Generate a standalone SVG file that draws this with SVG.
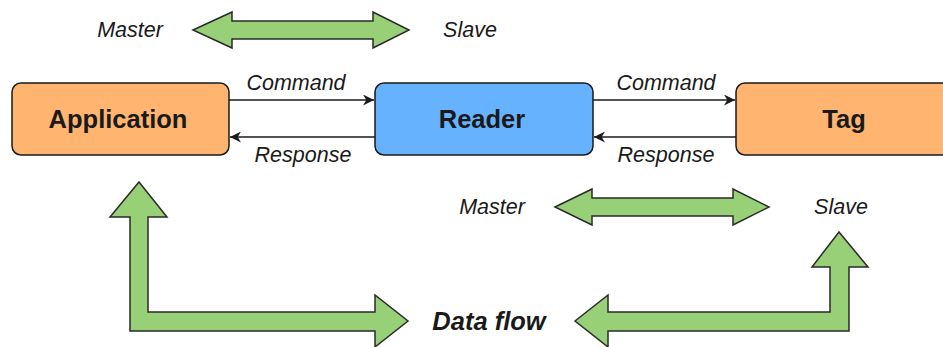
<svg xmlns="http://www.w3.org/2000/svg" width="943" height="347" viewBox="0 0 943 347">
<style>
.box{stroke:#1a1a1a;stroke-width:1.5}
.lbl{font-family:"Liberation Sans",Arial,sans-serif;font-style:italic;font-size:21.5px;fill:#1a1a1a;text-anchor:middle}
.name{font-family:"Liberation Sans",Arial,sans-serif;font-weight:bold;font-size:25.5px;fill:#1a1a1a;text-anchor:middle}
.big{fill:#97D077;stroke:#2a2a2a;stroke-width:1.5;stroke-linejoin:miter}
.ln{stroke:#1a1a1a;stroke-width:1.5;fill:none}
</style>
<defs>
<marker id="ah" viewBox="0 0 10 10" refX="10" refY="5" markerWidth="11" markerHeight="11" markerUnits="userSpaceOnUse" orient="auto">
<path d="M0,0 L10,5 L0,10 L3,5 Z" fill="#1a1a1a"/>
</marker>
</defs>
<g id="application">
<rect class="box" x="12" y="83" width="217" height="72" rx="9" fill="#FFB570"/>
<text class="name" x="118" y="128">Application</text>
</g>
<g id="reader">
<rect class="box" x="375" y="83" width="218" height="72" rx="9" fill="#66B2FF"/>
<text class="name" x="482" y="128">Reader</text>
</g>
<g id="tag">
<rect class="box" x="736" y="83" width="218" height="72" rx="9" fill="#FFB570"/>
<text class="name" x="844" y="128">Tag</text>
</g>
<g id="connectors">
<line class="ln" x1="229" y1="100" x2="374" y2="100" marker-end="url(#ah)"/>
<line class="ln" x1="375" y1="137" x2="230" y2="137" marker-end="url(#ah)"/>
<line class="ln" x1="593" y1="100" x2="735" y2="100" marker-end="url(#ah)"/>
<line class="ln" x1="736" y1="137" x2="594" y2="137" marker-end="url(#ah)"/>
<text class="lbl" x="296" y="90">Command</text>
<text class="lbl" x="303" y="162">Response</text>
<text class="lbl" x="666" y="90">Command</text>
<text class="lbl" x="666" y="162">Response</text>
</g>
<g id="master-slave-top">
<path class="big" d="M193,30 L232,12 L232,21 L373,21 L373,12 L409,30 L373,48 L373,39 L232,39 L232,48 Z"/>
<text class="lbl" x="130" y="37">Master</text>
<text class="lbl" x="470" y="37">Slave</text>
</g>
<g id="master-slave-bottom">
<path class="big" d="M555,207 L592,189 L592,198 L733,198 L733,189 L769,207 L733,225 L733,216 L592,216 L592,225 Z"/>
<text class="lbl" x="492" y="214">Master</text>
<text class="lbl" x="841" y="214">Slave</text>
</g>
<g id="data-flow">
<path class="big" d="M139,182 L167,217 L148,217 L148,312 L375,312 L375,295 L408,321 L375,347 L375,331 L130,331 L130,217 L110,217 Z"/>
<path class="big" d="M575,321 L608,295 L608,312 L830,312 L830,267 L812,267 L839,232 L868,267 L849,267 L849,331 L608,331 L608,347 Z"/>
<text class="name" x="489" y="330" font-style="italic">Data flow</text>
</g>
</svg>
